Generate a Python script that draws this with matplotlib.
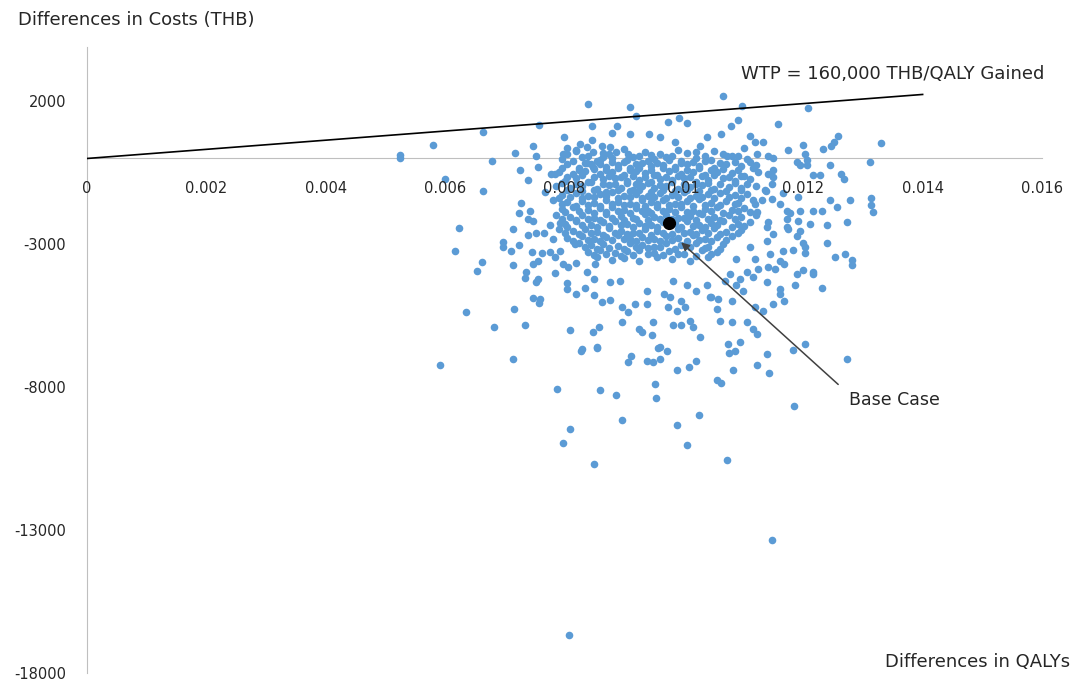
#!/usr/bin/env python3
"""Cost-effectiveness plane: PSA scatter of incremental costs vs incremental QALYs."""
import matplotlib

matplotlib.use("Agg")
import matplotlib.pyplot as plt
import numpy as np

# incremental QALYs are kept in units of 0.001 QALY, costs in THB
# dense centre of the cloud (two interleaved layers)
core_points = [
    (8.2, 280), (8.65, 190), (9.0, 320), (9.35, 230), (9.6, 150), (9.9, 300), (10.2, 210), (10.5, 270),
    (7.95, -30), (8.3, 60), (8.55, -80), (8.8, 20), (9.05, -60), (9.25, 90), (9.5, -10), (9.7, 40),
    (9.95, -90), (10.2, 30), (10.45, -40), (10.8, 70), (11.05, -20),
    (8.05, -210), (8.25, -320), (8.45, -180), (8.7, -290), (8.9, -230), (9.1, -340), (9.3, -170),
    (9.45, -270), (9.65, -220), (9.85, -310), (10.05, -190), (10.25, -260), (10.5, -330), (10.7, -200),
    (10.95, -280), (11.2, -240),
    (7.9, -470), (8.15, -560), (8.35, -430), (8.6, -530), (8.8, -480), (9.0, -590), (9.2, -450),
    (9.35, -520), (9.55, -580), (9.75, -440), (9.95, -540), (10.15, -490), (10.35, -570), (10.55, -460),
    (10.8, -520), (11.0, -600), (11.25, -470),
    (8.0, -780), (8.2, -700), (8.45, -820), (8.65, -730), (8.85, -690), (9.05, -800), (9.25, -740),
    (9.45, -830), (9.6, -710), (9.8, -770), (10.0, -690), (10.2, -810), (10.4, -750), (10.65, -700),
    (10.85, -790), (11.1, -730),
    (7.85, -960), (8.1, -1040), (8.3, -980), (8.55, -1070), (8.75, -940), (8.95, -1020), (9.15, -1090),
    (9.3, -950), (9.5, -1030), (9.7, -970), (9.9, -1080), (10.1, -1000), (10.3, -930), (10.5, -1060),
    (10.75, -990), (10.95, -1050), (11.2, -960),
    (7.95, -1280), (8.2, -1200), (8.4, -1310), (8.6, -1230), (8.8, -1190), (9.0, -1300), (9.2, -1240),
    (9.4, -1330), (9.6, -1210), (9.8, -1270), (10.0, -1180), (10.2, -1320), (10.4, -1250), (10.6, -1200),
    (10.85, -1290), (11.05, -1230),
    (7.8, -1460), (8.05, -1540), (8.3, -1480), (8.5, -1570), (8.7, -1440), (8.9, -1520), (9.1, -1590),
    (9.3, -1450), (9.45, -1530), (9.65, -1470), (9.85, -1580), (10.05, -1500), (10.25, -1430),
    (10.45, -1560), (10.7, -1490), (10.9, -1550), (11.15, -1460),
    (7.95, -1780), (8.15, -1700), (8.4, -1810), (8.6, -1730), (8.8, -1690), (9.0, -1800), (9.2, -1740),
    (9.4, -1830), (9.55, -1710), (9.75, -1770), (9.95, -1680), (10.15, -1820), (10.35, -1750),
    (10.55, -1700), (10.8, -1790), (11.0, -1730),
    (7.85, -1960), (8.1, -2040), (8.3, -1980), (8.5, -2070), (8.7, -1940), (8.95, -2020), (9.15, -2090),
    (9.35, -1950), (9.5, -2030), (9.7, -1970), (9.9, -2080), (10.1, -2000), (10.3, -1930), (10.5, -2060),
    (10.75, -1990), (10.95, -2050), (11.2, -1960),
    (8.0, -2280), (8.2, -2200), (8.45, -2310), (8.65, -2230), (8.85, -2190), (9.05, -2300), (9.25, -2240),
    (9.45, -2330), (9.65, -2210), (9.85, -2270), (10.05, -2180), (10.25, -2320), (10.45, -2250),
    (10.65, -2200), (10.9, -2290), (11.1, -2230),
    (7.9, -2460), (8.15, -2540), (8.35, -2480), (8.55, -2570), (8.75, -2440), (8.95, -2520), (9.15, -2590),
    (9.35, -2450), (9.55, -2530), (9.9, -2470), (10.1, -2580), (10.3, -2500), (10.5, -2430), (10.7, -2560),
    (10.95, -2490),
    (8.05, -2780), (8.3, -2700), (8.5, -2810), (8.7, -2730), (8.9, -2690), (9.1, -2800), (9.3, -2740),
    (9.5, -2830), (9.7, -2710), (9.9, -2770), (10.15, -2680), (10.35, -2820), (10.55, -2750), (10.8, -2700),
    (8.25, -2960), (8.45, -3040), (8.65, -2980), (8.9, -3070), (9.1, -2940), (9.3, -3020), (9.5, -3090),
    (9.7, -2950), (9.95, -3030), (10.2, -2970), (10.4, -3080), (10.65, -3000),
    (8.4, -3280), (8.6, -3200), (8.85, -3310), (9.05, -3230), (9.25, -3190), (9.5, -3300), (9.75, -3240),
    (10.0, -3330), (10.3, -3210), (10.55, -3270),
    (8.55, -3460), (8.8, -3540), (9.0, -3480), (9.25, -3570), (9.55, -3440), (9.8, -3520), (10.1, -3590),
    (10.4, -3450),
]

core_points_inner = [
    (8.05, 140), (8.4, 90), (8.75, 170), (9.15, 60), (9.45, 130), (9.8, 100), (10.05, 180), (10.35, 70),
    (10.65, 150),
    (8.15, -100), (8.35, -160), (8.6, -70), (8.8, -140), (9.0, -110), (9.2, -180), (9.4, -90),
    (9.55, -150), (9.75, -60), (9.95, -170), (10.15, -120), (10.35, -80), (10.6, -160), (10.85, -110),
    (11.1, -140),
    (7.95, -340), (8.25, -410), (8.5, -360), (8.7, -420), (8.9, -330), (9.1, -390), (9.25, -350),
    (9.45, -400), (9.65, -320), (9.85, -380), (10.05, -410), (10.25, -340), (10.45, -390), (10.65, -360),
    (10.9, -410), (11.15, -350),
    (8.05, -650), (8.3, -590), (8.5, -640), (8.75, -600), (8.95, -660), (9.15, -610), (9.35, -650),
    (9.5, -590), (9.7, -640), (9.9, -600), (10.1, -660), (10.3, -620), (10.5, -580), (10.75, -640),
    (10.95, -610),
    (7.95, -860), (8.2, -900), (8.4, -840), (8.65, -880), (8.85, -910), (9.05, -850), (9.2, -890),
    (9.4, -860), (9.6, -920), (9.8, -840), (10.0, -880), (10.2, -900), (10.4, -850), (10.6, -890),
    (10.85, -870), (11.05, -910),
    (8.05, -1100), (8.3, -1150), (8.5, -1120), (8.7, -1160), (8.9, -1090), (9.1, -1140), (9.25, -1110),
    (9.45, -1160), (9.65, -1100), (9.85, -1130), (10.05, -1090), (10.25, -1150), (10.45, -1120),
    (10.7, -1140), (10.95, -1100),
    (7.9, -1380), (8.1, -1340), (8.3, -1400), (8.5, -1360), (8.7, -1330), (8.9, -1390), (9.1, -1350),
    (9.3, -1400), (9.5, -1340), (9.7, -1380), (9.9, -1360), (10.1, -1400), (10.3, -1340), (10.5, -1390),
    (10.75, -1350), (10.95, -1380),
    (7.95, -1600), (8.2, -1650), (8.4, -1620), (8.6, -1660), (8.8, -1590), (9.0, -1640), (9.2, -1610),
    (9.35, -1660), (9.55, -1600), (9.75, -1630), (9.95, -1590), (10.15, -1650), (10.35, -1620),
    (10.6, -1640), (10.85, -1600),
    (8.0, -1880), (8.25, -1840), (8.5, -1900), (8.7, -1860), (8.9, -1830), (9.1, -1890), (9.3, -1850),
    (9.45, -1900), (9.65, -1840), (9.85, -1880), (10.05, -1860), (10.25, -1900), (10.45, -1840),
    (10.65, -1890), (10.9, -1850), (11.1, -1880),
    (7.95, -2100), (8.2, -2150), (8.4, -2120), (8.6, -2160), (8.8, -2090), (9.0, -2140), (9.2, -2110),
    (9.4, -2160), (9.6, -2100), (9.8, -2130), (10.0, -2090), (10.2, -2150), (10.4, -2120), (10.6, -2140),
    (10.85, -2100),
    (8.05, -2380), (8.3, -2340), (8.55, -2400), (8.75, -2360), (8.95, -2330), (9.15, -2390),
    (9.35, -2350), (9.55, -2400), (9.75, -2340), (9.95, -2380), (10.15, -2360), (10.35, -2400),
    (10.55, -2340), (10.8, -2390), (11.0, -2350),
    (8.0, -2600), (8.25, -2650), (8.45, -2620), (8.65, -2660), (8.85, -2590), (9.05, -2640),
    (9.25, -2610), (9.45, -2660), (9.65, -2600), (9.8, -2630), (10.0, -2590), (10.2, -2650),
    (10.4, -2620), (10.6, -2640), (10.9, -2600),
    (8.15, -2880), (8.4, -2840), (8.6, -2900), (8.8, -2860), (9.0, -2830), (9.2, -2890), (9.4, -2850),
    (9.6, -2900), (9.8, -2840), (10.05, -2880), (10.25, -2860), (10.45, -2900), (10.7, -2850),
    (8.35, -3100), (8.55, -3150), (8.75, -3120), (9.0, -3160), (9.2, -3090), (9.4, -3140), (9.6, -3110),
    (9.85, -3160), (10.1, -3100), (10.35, -3130), (10.6, -3150),
    (8.5, -3380), (8.7, -3340), (8.95, -3400), (9.15, -3360), (9.4, -3330), (9.65, -3390), (9.9, -3350),
    (10.2, -3400), (10.45, -3340),
]

# points around the centre, read one by one
upper_left_points = [
    (5.24, 130), (5.25, 30), (5.79, 480), (6.0, -710), (6.23, -2430), (6.17, -3240), (5.92, -7210),
    (8.39, 1890), (9.1, 1790), (9.19, 1500), (7.57, 1180), (6.63, 920), (8.46, 1130), (8.88, 1130),
    (8.8, 900), (9.1, 840), (7.99, 750), (8.46, 660), (8.04, 370), (7.48, 420), (7.17, 200), (6.79, -90),
    (7.52, 70), (7.56, -300), (7.25, -400), (7.39, -750), (6.63, -1150), (7.27, -1550), (7.42, -1820),
    (7.97, 160), (8.2, 260), (8.26, 510), (8.37, 400), (8.62, 450), (8.48, 220), (8.76, 400), (8.87, 220),
    (9.07, 160), (8.64, 50), (8.59, -190), (8.48, -300), (8.37, -150), (7.84, -540), (7.78, -560),
    (7.67, -1180), (7.24, -1920), (7.39, -2100), (7.47, -2170), (7.76, -2310), (7.92, -2270),
]

upper_right_points = [
    (10.66, 2170), (10.98, 1830), (12.08, 1770), (9.73, 1290), (9.91, 1410), (10.05, 1250), (10.9, 1360),
    (10.79, 1130), (11.58, 1190), (10.63, 860), (9.42, 860), (9.6, 750), (10.38, 750), (11.11, 800),
    (11.19, 590), (11.33, 590), (12.59, 800), (12.52, 570), (12.47, 450), (13.31, 540), (12.33, 340),
    (12.0, 480), (11.75, 310), (12.03, 140), (9.85, 570), (10.27, 450), (11.0, 360), (10.72, 100),
    (10.91, 100), (11.22, 160), (11.41, 100), (11.5, 10), (11.89, -130), (11.94, -240), (12.06, -240),
    (12.45, -240), (13.12, -130), (12.64, -540), (12.68, -710), (11.5, -420), (11.5, -650), (12.17, -570),
    (12.28, -590), (13.14, -1370), (13.14, -1620), (12.78, -1440), (12.45, -1470), (12.56, -1700),
    (12.31, -1850), (12.17, -1820), (11.37, -1150), (11.47, -1410), (11.61, -1580), (11.72, -1820),
    (11.19, -1580), (11.41, -530), (11.47, -880), (11.36, -1120), (11.31, -1470), (11.78, -1890),
    (11.74, -2450), (11.94, -1820), (11.9, -2700), (12.03, -3110), (11.66, -3220), (11.39, -2410),
    (11.66, -1220), (11.92, -1360), (12.06, -70),
]

lower_left_points = [
    (6.61, -3620), (6.53, -3950), (6.35, -5370), (6.82, -5880), (7.13, -2480), (6.97, -2930),
    (6.97, -3080), (7.24, -3020), (7.11, -3250), (7.13, -3720), (7.16, -5280), (7.34, -5820),
    (7.35, -3970), (7.34, -4170), (7.45, -3270), (7.48, -3680), (7.56, -3570), (7.56, -4210),
    (7.53, -4330), (7.48, -4870), (7.59, -4910), (7.58, -5050), (7.39, -2690), (7.53, -2610),
    (7.66, -2610), (7.63, -3310), (7.76, -3270), (7.84, -3450), (7.84, -4010), (7.92, -3240),
    (7.81, -2810), (7.97, -3680), (8.06, -3800), (8.04, -4360), (8.04, -4560), (8.19, -3660),
    (8.18, -2980), (8.2, -4730), (8.37, -3970), (8.34, -4520), (8.49, -4210), (8.49, -4790),
    (8.51, -3680), (8.62, -5020), (8.76, -4940), (8.76, -4330), (8.93, -4270), (8.96, -5200),
    (9.07, -5370), (8.96, -5720), (9.18, -5080), (8.1, -6010), (8.47, -6070), (8.58, -5900),
    (8.29, -6650), (8.55, -6600), (9.24, -5960),
]

lower_right_points = [
    (13.17, -1870), (12.73, -2220), (12.39, -2340), (12.12, -2290), (11.92, -2170), (11.94, -2520),
    (11.72, -2400), (11.72, -2110), (12.39, -2960), (12.0, -2960), (11.83, -3190), (12.03, -3310),
    (12.53, -3430), (12.7, -3330), (12.81, -3540), (12.81, -3710), (12.0, -3890), (12.17, -4030),
    (12.31, -4520), (11.86, -4440), (11.61, -3570), (11.67, -3680), (11.53, -3860), (11.41, -3800),
    (11.61, -4560), (11.61, -4730), (11.67, -4970), (11.5, -5080), (11.33, -5320), (11.19, -5200),
    (11.39, -4330), (11.44, -3330), (11.39, -2870), (11.5, -2630), (11.41, -2220), (11.22, -1870),
    (10.88, -4440), (10.99, -4620), (10.8, -4970), (10.58, -4910), (10.44, -4830), (10.6, -5670),
    (10.8, -5720), (10.55, -5260), (11.16, -5960), (11.22, -6130), (11.05, -5720), (10.94, -6420),
    (10.74, -6480), (10.27, -6250), (10.16, -5900), (10.1, -5670), (9.96, -5840), (9.82, -5840),
    (9.88, -5320), (10.02, -5200), (9.74, -5200), (9.77, -4850), (9.96, -4970), (9.49, -5720),
    (9.38, -5080), (9.3, -6070), (9.46, -6190), (9.6, -6600), (10.46, -4850), (10.21, -4620),
    (10.38, -4440), (10.05, -4440), (9.82, -4270), (9.66, -4730), (9.38, -4620), (11.89, -4030),
    (12.17, -3970), (12.03, -6480), (11.11, -3100), (11.19, -3510), (10.88, -3510), (11.05, -3970),
    (10.94, -4210), (10.77, -4030), (10.69, -4270), (11.16, -4150), (11.25, -3860),
]

# sparse lower part and the two extreme outliers
tail_points = [
    (7.13, -7020), (8.28, -6750), (8.54, -6630), (7.87, -8070), (8.59, -8110), (8.86, -8260),
    (9.12, -6900), (9.07, -7130), (9.38, -7080), (9.49, -7130), (9.6, -7020), (9.57, -6620),
    (9.72, -6750), (9.52, -7880), (9.54, -8380), (9.88, -7400), (10.09, -7300), (10.2, -7080),
    (8.97, -9140), (8.1, -9470), (7.97, -9970), (8.49, -10680), (9.88, -9320), (10.25, -8990),
    (10.06, -10030), (10.72, -10560), (10.55, -7760), (10.63, -7840), (10.76, -6800), (10.86, -6750),
    (10.83, -7400), (11.23, -7240), (11.4, -6850), (11.43, -7510), (11.82, -6690), (11.85, -8650),
    (12.74, -7020), (11.48, -13360), (8.07, -16680),
]

base_case = (9.75, -2270)
wtp_thb_per_qaly = 160000
wtp_qaly_end = 0.014
x_ticks = [0, 0.002, 0.004, 0.006, 0.008, 0.01, 0.012, 0.014, 0.016]
x_tick_labels = ["0", "0.002", "0.004", "0.006", "0.008", "0.01", "0.012", "0.014", "0.016"]
y_ticks = [2000, -3000, -8000, -13000, -18000]

BLUE = "#5B9BD5"
AXIS_GREY = "#BFBFBF"
TEXT = "#262626"

plt.rcParams["font.family"] = ["DejaVu Sans"]
plt.rcParams["axes.unicode_minus"] = False

all_points = np.array(
    core_points + core_points_inner + upper_left_points + upper_right_points
    + lower_left_points + lower_right_points + tail_points
)
qaly = all_points[:, 0] * 1e-3
cost = all_points[:, 1]

fig = plt.figure(figsize=(10.78, 6.82), dpi=100)
ax = fig.add_axes([87 / 1078, 1 - 673 / 682, (1042 - 87) / 1078, (673 - 47) / 682])

ax.scatter(qaly, cost, s=30, color=BLUE, linewidths=0, zorder=2)

ax.plot([0, wtp_qaly_end], [0, wtp_qaly_end * wtp_thb_per_qaly], color="black", lw=1.2, zorder=4)

ax.plot(base_case[0] * 1e-3, base_case[1], marker="o", ms=9.5, color="black", zorder=5,
        markeredgewidth=0)
ax.annotate(
    "",
    xy=(0.00992, -2870),
    xytext=(0.01262, -7970),
    arrowprops=dict(arrowstyle="-|>", color="#404040", lw=1.1, mutation_scale=12),
    zorder=6,
)
ax.text(0.01277, -8450, "Base Case", fontsize=12.5, color=TEXT, va="center", ha="left")
ax.text(0.01095, 2950, "WTP = 160,000 THB/QALY Gained", fontsize=13, color=TEXT,
        va="center", ha="left")

ax.set_xlim(0, 0.016)
ax.set_ylim(-18000, 3900)
ax.set_xticks(x_ticks)
ax.set_xticklabels(x_tick_labels)
ax.set_yticks(y_ticks)
ax.set_axisbelow(False)
ax.tick_params(axis="both", length=0, labelsize=10.5, labelcolor=TEXT)
ax.tick_params(axis="x", pad=16)
ax.tick_params(axis="y", pad=15)

for side in ("top", "right"):
    ax.spines[side].set_visible(False)
ax.spines["bottom"].set_position(("data", 0))
ax.spines["bottom"].set_color(AXIS_GREY)
ax.spines["left"].set_color(AXIS_GREY)
ax.spines["bottom"].set_zorder(1)

fig.text(18 / 1078, 1 - 20 / 682, "Differences in Costs (THB)", fontsize=13, color=TEXT,
         ha="left", va="center")
fig.text(1070 / 1078, 1 - 662 / 682, "Differences in QALYs", fontsize=13, color=TEXT,
         ha="right", va="center")

fig.savefig("out.png", dpi=100)
